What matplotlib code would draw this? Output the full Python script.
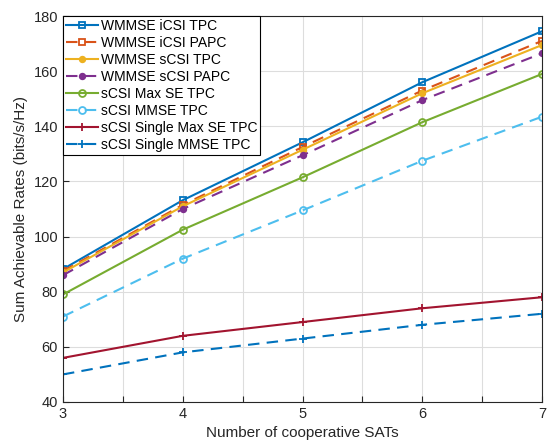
import matplotlib
matplotlib.use("Agg")
import matplotlib.pyplot as plt
import numpy as np

x = [3, 4, 5, 6, 7]
icsi_tpc = [88.2, 113.2, 134.2, 156.0, 174.5]
icsi_papc = [87.5, 111.5, 132.5, 153.0, 171.0]
scsi_tpc = [87.0, 111.0, 131.5, 152.0, 169.5]
scsi_papc = [86.0, 110.0, 129.5, 149.5, 166.5]
maxse_tpc = [79.0, 102.5, 121.5, 141.5, 159.0]
mmse_tpc = [71.0, 92.0, 109.5, 127.5, 143.5]
single_maxse = [56.0, 64.0, 69.0, 74.0, 78.0]
single_mmse = [50.0, 58.0, 63.0, 68.0, 72.0]

labels = ["WMMSE iCSI TPC", "WMMSE iCSI PAPC", "WMMSE sCSI TPC", "WMMSE sCSI PAPC",
          "sCSI Max SE TPC", "sCSI MMSE TPC", "sCSI Single Max SE TPC", "sCSI Single MMSE TPC"]
series = [icsi_tpc, icsi_papc, scsi_tpc, scsi_papc, maxse_tpc, mmse_tpc, single_maxse, single_mmse]
colors = ["#0072BD", "#D95319", "#EDB120", "#7E2F8E", "#77AC30", "#4DBEEE", "#A2142F", "#0072BD"]
styles = ["-", "--", "-", "--", "-", "--", "-", "--"]
markers = ["s", "s", "o", "o", "o", "o", "+", "+"]
filled = [False, False, True, True, False, False, True, True]
msizes = [5, 5, 4, 4, 5, 5, 6, 6]

plt.rcParams['font.family'] = ['Liberation Sans', 'DejaVu Sans']
fig = plt.figure(figsize=(5.5, 4.47), dpi=100)
ax = fig.add_axes([0.1145, 0.1007, 0.871, 0.8633])

for y, lab, c, ls, m, f, ms in zip(series, labels, colors, styles, markers, filled, msizes):
    kw = dict(dashes=(5.5, 3.5)) if ls == "--" else {}
    ax.plot(x, y, color=c, marker=m, label=lab, linewidth=1.5, linestyle=ls,
            markersize=ms, markerfacecolor=c if f else "none", markeredgecolor=c,
            markeredgewidth=1.3, **kw)

ax.set_xlim(3, 7)
ax.set_ylim(40, 180)
ticks = np.arange(3, 7.01, 0.5)
ax.set_xticks(ticks)
ax.set_xticklabels([str(int(v)) if float(v).is_integer() else "" for v in ticks])
ax.set_yticks(np.arange(40, 181, 20))
ax.grid(True, color="#dddddd", linewidth=0.8)
ax.set_axisbelow(True)
ax.tick_params(direction="in", labelsize=10.5, colors="#262626", length=4)
for s in ax.spines.values():
    s.set_color("#262626")
    s.set_linewidth(0.8)
ax.set_xlabel("Number of cooperative SATs", fontsize=11, color="#262626")
ax.set_ylabel("Sum Achievable Rates (bits/s/Hz)", fontsize=11, color="#262626")

leg = ax.legend(loc="upper left", fontsize=10, frameon=True, fancybox=False,
                edgecolor="black", borderaxespad=0.0, handlelength=2.3,
                labelspacing=0.22, borderpad=0.2, handletextpad=0.25, framealpha=1)
leg.get_frame().set_linewidth(0.8)

fig.savefig("out.png", dpi=100)
